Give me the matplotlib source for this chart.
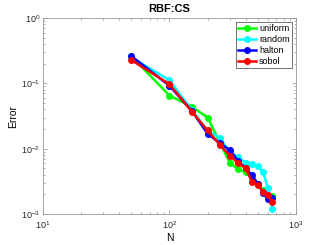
import matplotlib
matplotlib.use('Agg')
import matplotlib.pyplot as plt

N = [50, 100, 150, 200, 250, 300, 350, 400, 450, 500, 550, 600, 650]
uniform = [0.26, 0.065, 0.044, 0.030, 0.0125, 0.0061, 0.0048, 0.0044, 0.0034, 0.0029, 0.0023, 0.0019, 0.0019]
random_ = [0.25, 0.112, 0.039, 0.019, 0.0146, 0.0088, 0.0074, 0.0061, 0.0058, 0.0054, 0.0044, 0.0025, 0.00118]
halton = [0.26, 0.092, 0.038, 0.017, 0.0122, 0.0095, 0.0065, 0.0050, 0.0039, 0.0029, 0.0021, 0.00168, 0.00173]
sobol = [0.227, 0.097, 0.037, 0.019, 0.0115, 0.0078, 0.0060, 0.0050, 0.0031, 0.0028, 0.0022, 0.00196, 0.00154]

series = [('uniform', uniform, '#00ff00'),
          ('random', random_, '#00ffff'),
          ('halton', halton, '#0000ff'),
          ('sobol', sobol, '#ff0000')]

plt.rcParams['font.family'] = ['Liberation Sans', 'DejaVu Sans']
fig = plt.figure(figsize=(3.27, 2.45), dpi=100)
ax = fig.add_axes([0.1315, 0.1265, 0.7735, 0.8])

for name, vals, col in series:
    ax.loglog(N, vals, color=col, marker='o', markersize=4, linewidth=1.8,
              markerfacecolor=col, markeredgewidth=1.0, label=name)

ax.set_xlim(10, 1000)
ax.set_ylim(1e-3, 1)
ax.set_title('RBF:CS', fontsize=8, fontweight='bold', pad=4)
ax.set_xlabel('N', fontsize=7.5, labelpad=1)
ax.set_ylabel('Error', fontsize=7.5, labelpad=2)

gray = '#262626'
for s in ax.spines.values():
    s.set_color('#999999')
    s.set_linewidth(0.6)
ax.tick_params(which='both', direction='in', top=True, right=True,
               labelsize=6.5, color='#888888', labelcolor=gray, pad=2)
ax.tick_params(axis='x', which='both', pad=4)
ax.tick_params(which='major', length=3, width=0.5)
ax.tick_params(which='minor', length=1.5, width=0.5)

leg = ax.legend(loc='upper right', fontsize=6.5, frameon=True, fancybox=False,
                handlelength=2.0, handletextpad=0.3, borderpad=0.3,
                labelspacing=0.2, borderaxespad=0.4)
leg.get_frame().set_edgecolor('#333333')
leg.get_frame().set_linewidth(0.6)

fig.savefig('out.png', dpi=100)
